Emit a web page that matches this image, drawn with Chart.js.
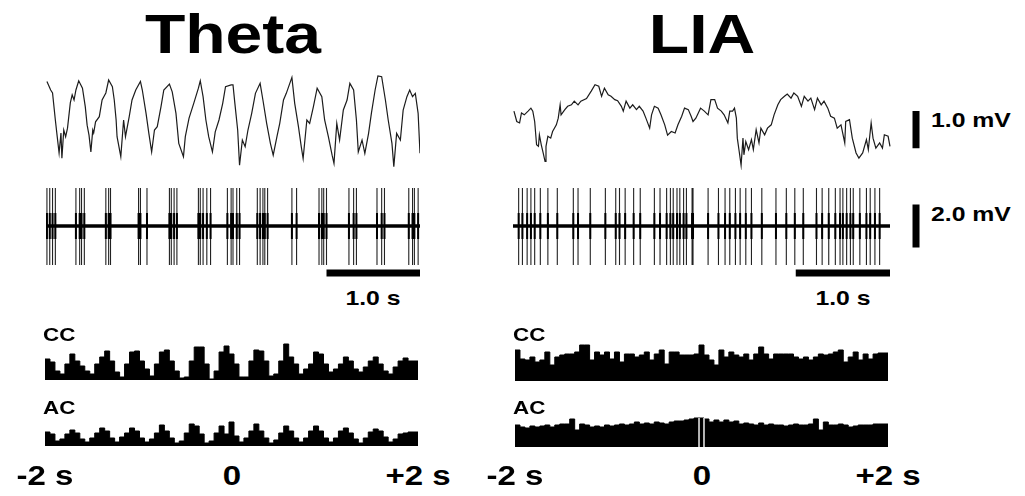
<!DOCTYPE html>
<html>
<head>
<meta charset="utf-8">
<script src="https://cdn.jsdelivr.net/npm/chart.js@4/dist/chart.umd.min.js"></script>
<style>
  html, body { margin: 0; padding: 0; background: #fff; }
  #fig { position: relative; width: 1025px; height: 496px; overflow: hidden; background: #fff; }
  #fig canvas { position: absolute; }
  .lbl { position: absolute; font-family: "Liberation Sans", Arial, sans-serif; font-weight: bold;
         color: #000; white-space: nowrap; line-height: 1; }
</style>
</head>
<body>
<div id="fig"></div>
<script>
// ---- data ----
const columnTitles = ["Theta", "LIA"];

// LFP traces, [time s, mV]
const thetaLfp = [[0.01,1.04],[0.05,0.81],[0.07,0.73],[0.10,0.0],[0.12,-0.45],[0.14,-0.89],[0.16,-0.35],[0.17,-1.03],[0.19,-0.27],[0.21,-0.45],[0.23,-0.22],[0.26,0.46],[0.28,0.68],[0.30,0.54],[0.32,0.81],[0.35,1.06],[0.39,0.86],[0.42,0.36],[0.44,-0.14],[0.46,-0.41],[0.48,-0.86],[0.50,-0.27],[0.51,-0.35],[0.53,-0.05],[0.57,0.09],[0.60,0.54],[0.64,0.73],[0.67,1.08],[0.71,0.90],[0.73,0.54],[0.75,0.0],[0.76,-0.45],[0.80,-0.99],[0.83,0.0],[0.85,-0.45],[0.89,0.09],[0.92,0.54],[0.96,0.81],[1.01,1.04],[1.03,0.81],[1.07,0.18],[1.10,-0.36],[1.13,-0.86],[1.16,-0.27],[1.19,-0.18],[1.23,0.36],[1.26,0.81],[1.32,0.97],[1.35,0.76],[1.39,0.18],[1.42,-0.63],[1.47,-0.99],[1.49,-0.45],[1.53,0.05],[1.58,0.45],[1.63,0.86],[1.65,1.06],[1.68,0.63],[1.71,0.0],[1.74,-0.45],[1.78,-0.86],[1.81,-0.32],[1.85,0.0],[1.89,0.45],[1.92,0.90],[1.98,0.95],[2.00,0.95],[2.02,0.45],[2.05,-0.27],[2.07,-1.22],[2.10,-0.54],[2.13,-0.72],[2.16,-0.27],[2.20,0.18],[2.24,0.72],[2.29,0.99],[2.32,0.54],[2.36,-0.09],[2.40,-0.63],[2.43,-0.95],[2.47,-0.45],[2.50,-0.09],[2.54,0.54],[2.57,0.72],[2.63,1.15],[2.66,0.45],[2.70,-0.18],[2.73,-0.72],[2.75,-1.04],[2.79,0.0],[2.82,-0.09],[2.86,0.36],[2.90,0.86],[2.95,0.63],[2.98,0.0],[3.02,-0.45],[3.06,-0.95],[3.08,-1.17],[3.11,-0.09],[3.14,-0.54],[3.18,0.27],[3.22,0.54],[3.25,0.99],[3.29,0.81],[3.32,0.0],[3.34,-0.86],[3.38,-0.54],[3.41,-0.90],[3.45,-0.36],[3.48,0.18],[3.52,0.81],[3.55,1.19],[3.59,1.17],[3.63,0.54],[3.66,0.0],[3.70,-0.63],[3.72,-1.26],[3.75,-0.36],[3.79,-0.54],[3.82,0.27],[3.86,0.63],[3.89,0.81],[3.92,0.63],[3.95,0.72],[3.98,0.18],[4.00,-0.90]];

const liaLfp = [[0.01,0.24],[0.04,-0.04],[0.07,-0.08],[0.09,0.19],[0.12,0.14],[0.16,0.24],[0.19,0.32],[0.21,0.24],[0.23,-0.04],[0.25,-0.67],[0.27,-0.71],[0.28,-0.40],[0.30,-0.67],[0.32,-0.89],[0.34,-1.12],[0.35,-0.71],[0.37,-0.44],[0.40,-0.49],[0.42,-0.31],[0.46,-0.13],[0.48,0.05],[0.50,0.41],[0.51,0.14],[0.55,0.28],[0.58,0.37],[0.62,0.41],[0.65,0.51],[0.69,0.41],[0.72,0.51],[0.78,0.58],[0.83,0.78],[0.87,0.95],[0.91,0.91],[0.94,0.64],[0.97,0.86],[1.01,0.68],[1.04,0.64],[1.08,0.55],[1.11,0.52],[1.15,0.37],[1.17,0.24],[1.20,0.51],[1.24,0.32],[1.27,0.41],[1.31,0.28],[1.34,0.37],[1.38,0.24],[1.41,0.05],[1.45,-0.22],[1.47,0.14],[1.50,0.37],[1.54,0.32],[1.57,0.14],[1.61,-0.13],[1.64,-0.41],[1.68,-0.31],[1.72,-0.35],[1.75,-0.13],[1.79,0.10],[1.82,0.32],[1.86,0.28],[1.89,0.10],[1.91,-0.04],[1.94,0.05],[1.99,0.32],[2.03,0.24],[2.07,0.14],[2.10,0.55],[2.14,0.55],[2.17,0.32],[2.21,0.24],[2.24,0.14],[2.28,-0.08],[2.30,0.24],[2.33,0.24],[2.35,0.32],[2.37,0.05],[2.38,-0.49],[2.40,-0.85],[2.42,-1.22],[2.44,-0.49],[2.45,-0.94],[2.47,-0.58],[2.50,-0.80],[2.53,-0.53],[2.55,-0.80],[2.58,-0.26],[2.61,-0.62],[2.63,-0.22],[2.67,-0.40],[2.70,-0.22],[2.74,-0.13],[2.77,0.14],[2.81,0.41],[2.84,0.55],[2.88,0.64],[2.91,0.70],[2.95,0.59],[2.98,0.73],[3.02,0.64],[3.06,0.37],[3.09,0.64],[3.13,0.51],[3.16,0.59],[3.20,0.28],[3.23,0.59],[3.27,0.41],[3.30,0.51],[3.34,0.32],[3.37,0.10],[3.41,0.05],[3.44,-0.22],[3.48,-0.13],[3.52,-0.62],[3.53,-0.04],[3.57,0.01],[3.60,-0.49],[3.64,-0.89],[3.67,-1.03],[3.71,-0.89],[3.75,-0.53],[3.77,-0.80],[3.80,-0.08],[3.82,-0.49],[3.85,-0.76],[3.89,-0.62],[3.92,-0.76],[3.94,-0.40],[3.98,-0.44],[4.00,-0.71]];

// spike times, s
const thetaSpikes = [0.01,0.04,0.07,0.10,0.32,0.36,0.38,0.41,0.64,0.67,0.69,0.99,1.01,1.08,1.32,1.34,1.37,1.40,1.63,1.65,1.68,1.72,1.76,1.94,1.98,2.00,2.04,2.07,2.26,2.29,2.32,2.34,2.37,2.63,2.68,2.92,2.95,2.97,3.00,3.24,3.29,3.32,3.54,3.59,3.62,3.88,3.92,3.94,3.98];
const liaSpikes = [0.06,0.10,0.15,0.19,0.23,0.29,0.37,0.47,0.64,0.69,0.82,0.98,1.09,1.13,1.19,1.28,1.35,1.50,1.56,1.63,1.67,1.70,1.74,1.77,1.81,1.84,1.90,1.91,2.07,2.18,2.25,2.30,2.36,2.41,2.47,2.53,2.64,2.79,2.90,2.99,3.08,3.22,3.28,3.35,3.42,3.47,3.50,3.54,3.58,3.61,3.68,3.75,3.79,3.84,3.89];
const spikePeakMv = 1.77;
const spikeTroughMv = -1.81;

// correlogram counts, -2 s .. +2 s
const thetaCC = [21,18,9,6,16,26,19,14,9,6,16,23,29,19,8,3,16,28,29,19,11,4,16,28,30,19,9,2,3,19,33,33,16,1,9,28,34,26,16,3,3,19,30,29,19,4,6,19,36,23,16,6,11,16,28,26,16,8,11,16,23,19,11,8,13,19,23,16,9,6,13,19,22,19,19];
const thetaAC = [14,12,5,7,12,16,13,7,4,8,13,18,15,8,4,9,13,18,15,8,4,7,13,21,15,8,3,5,13,22,20,12,3,5,13,20,12,24,10,4,8,15,22,15,8,3,6,13,20,15,8,4,8,15,20,15,8,4,8,15,18,13,7,3,8,14,17,15,9,4,7,12,13,14,14];
const liaCC = [31,22,21,24,19,21,29,16,24,26,27,27,29,36,36,21,29,26,29,22,29,19,27,27,24,26,29,21,27,31,17,29,29,26,26,26,27,36,26,21,16,31,24,29,26,24,27,21,27,34,27,22,27,27,27,27,24,22,24,21,24,27,26,27,29,31,19,24,29,21,27,22,27,28,28];
const liaAC = [22,20,19,21,20,21,22,20,22,23,23,28,17,23,22,20,21,20,22,21,22,23,22,23,25,23,24,23,25,24,23,25,26,26,27,28,29,29,28,25,27,25,27,25,26,23,24,23,22,24,22,23,22,22,21,22,23,22,22,23,28,17,25,22,22,23,22,20,21,22,22,22,23,23,23];

const lagTickValues = [-2, 0, 2];
const lagTickLabels = ["-2 s", "0", "+2 s"];
const timeBarSec = [3, 4];
const timeBarLabel = "1.0 s";
const lfpBarMv = [0.24, -0.76];
const spikeBarMv = [1.0, -1.0];
const voltBarLabels = ["1.0 mV", "2.0 mV"];

// ---- drawing ----
const fig = document.getElementById("fig");
Chart.defaults.font.family = "Liberation Sans";

function addCanvas(left, top, w, h) {
  const c = document.createElement("canvas");
  c.width = w;
  c.height = h;
  c.style.left = left + "px";
  c.style.top = top + "px";
  c.style.width = w + "px";
  c.style.height = h + "px";
  fig.appendChild(c);
  return c;
}

function addLabel(text, x, y, size, anchor) {
  const d = document.createElement("div");
  d.className = "lbl";
  d.textContent = text;
  d.style.fontSize = size + "px";
  d.style.left = x + "px";
  d.style.top = y + "px";
  if (anchor === "left") {
    d.style.transformOrigin = "0 50%";
    d.style.transform = "translateY(-50%) scaleX(1.18)";
  } else {
    d.style.transform = "translate(-50%,-50%) scaleX(1.18)";
  }
  fig.appendChild(d);
}

function baseOptions(xMin, xMax, yMin, yMax) {
  return {
    responsive: false,
    animation: false,
    events: [],
    layout: { padding: 0 },
    plugins: { legend: { display: false }, tooltip: { enabled: false } },
    elements: { point: { radius: 0 } },
    scales: {
      x: { type: "linear", display: false, min: xMin, max: xMax },
      y: { type: "linear", display: false, min: yMin, max: yMax },
    },
  };
}

function lineDs(data, color, width, extra) {
  return Object.assign(
    { data: data, borderColor: color, borderWidth: width, pointRadius: 0, tension: 0, fill: false, spanGaps: false, borderCapStyle: "butt" },
    extra || {}
  );
}

function spikeLines(times, lo, hi) {
  const pts = [];
  times.forEach((t) => {
    pts.push({ x: t, y: lo }, { x: t, y: hi }, { x: t, y: null });
  });
  return pts;
}

function stepPoints(counts) {
  const lo = lagTickValues[0], hi = lagTickValues[lagTickValues.length - 1];
  const w = (hi - lo) / counts.length;
  const pts = counts.map((c, i) => ({ x: lo + i * w, y: c }));
  pts.push({ x: hi, y: counts[counts.length - 1] });
  return pts;
}

function histChart(counts, left, top, w, h, yMax, markCentre) {
  const c = addCanvas(left, top, w, h);
  const sets = [];
  if (markCentre) {
    const lo = lagTickValues[0], hi = lagTickValues[lagTickValues.length - 1];
    const bw = (hi - lo) / counts.length;
    const k = Math.floor(counts.length / 2);
    const xl = lo + k * bw, xr = xl + bw, top2 = counts[k];
    sets.push(lineDs([{ x: xl, y: 0 }, { x: xl, y: top2 }, { x: xl, y: null }, { x: xr, y: 0 }, { x: xr, y: top2 }], "#fff", 1.4, { order: 0 }));
  }
  sets.push(lineDs(stepPoints(counts), "#000", 1, { stepped: true, fill: "origin", backgroundColor: "#000", order: 1 }));
  return new Chart(c, { type: "line", data: { datasets: sets }, options: baseOptions(lagTickValues[0], lagTickValues[lagTickValues.length - 1], 0, yMax) });
}

function drawColumn(col) {
  // LFP
  const lfpCanvas = addCanvas(col.left, 70, col.traceW, 100);
  const lfpSets = [lineDs(col.lfp.map((p) => ({ x: p[0], y: p[1] })), "#1c1c1c", 1.2)];
  if (col.bars) {
    lfpSets.push(lineDs([{ x: col.barX, y: lfpBarMv[0] }, { x: col.barX, y: lfpBarMv[1] }], "#000", 7));
  }
  const lfpChart = new Chart(lfpCanvas, { type: "line", data: { datasets: lfpSets }, options: baseOptions(0, col.xMax, -1.35, 1.35) });

  // spikes
  const spCanvas = addCanvas(col.left, 180, col.traceW, 100);
  const spSets = [
    lineDs([{ x: timeBarSec[0], y: -2.19 }, { x: timeBarSec[1], y: -2.19 }], "#000", 7),
    lineDs([{ x: 0, y: 0 }, { x: 4, y: 0 }], "#000", 3.5),
    lineDs(spikeLines(col.spikes, -0.6, 0.6), "#000", 2),
    lineDs(spikeLines(col.spikes, spikeTroughMv, spikePeakMv), "#222", 1.1),
  ];
  if (col.bars) {
    spSets.push(lineDs([{ x: col.barX, y: spikeBarMv[0] }, { x: col.barX, y: spikeBarMv[1] }], "#000", 7));
  }
  const spChart = new Chart(spCanvas, { type: "line", data: { datasets: spSets }, options: baseOptions(0, col.xMax, -2.51, 2.14) });

  // correlograms
  const ccChart = histChart(col.cc, col.histLeft, 335, 373, col.ccH, col.ccH, false);
  const acChart = histChart(col.ac, col.histLeft, col.acTop, 373, col.acH, col.acH, col.markCentre);

  // text
  addLabel(col.title, col.left + lfpChart.scales.x.getPixelForValue(2), 34, 56, "center");
  addLabel(timeBarLabel, col.left + spChart.scales.x.getPixelForValue((timeBarSec[0] + timeBarSec[1]) / 2), 297, 21, "center");
  addLabel("CC", col.histLeft - 2, 333.5, 19, "left");
  addLabel("AC", col.histLeft - 2, 406.5, 19, "left");
  lagTickValues.forEach((v, i) => {
    addLabel(lagTickLabels[i], col.histLeft + acChart.scales.x.getPixelForValue(v), 476, 28, "center");
  });
  if (col.bars) {
    const bx = col.left + lfpChart.scales.x.getPixelForValue(col.barX) + 15;
    addLabel(voltBarLabels[0], bx, 70 + lfpChart.scales.y.getPixelForValue(lfpBarMv[0]) + 8, 21, "left");
    addLabel(voltBarLabels[1], bx, 180 + spChart.scales.y.getPixelForValue(spikeBarMv[0]) + 8, 21, "left");
  }
}

drawColumn({
  title: columnTitles[0], lfp: thetaLfp, spikes: thetaSpikes, cc: thetaCC, ac: thetaAC,
  left: 46, traceW: 374, xMax: 4, histLeft: 45, ccH: 45, acTop: 416, acH: 30, bars: false, markCentre: false,
});
drawColumn({
  title: columnTitles[1], lfp: liaLfp, spikes: liaSpikes, cc: liaCC, ac: liaAC,
  left: 513, traceW: 415, xMax: 415 / 94.25, histLeft: 515, ccH: 46, acTop: 415, acH: 32, bars: true, barX: 4.276, markCentre: true,
});
</script>
</body>
</html>
